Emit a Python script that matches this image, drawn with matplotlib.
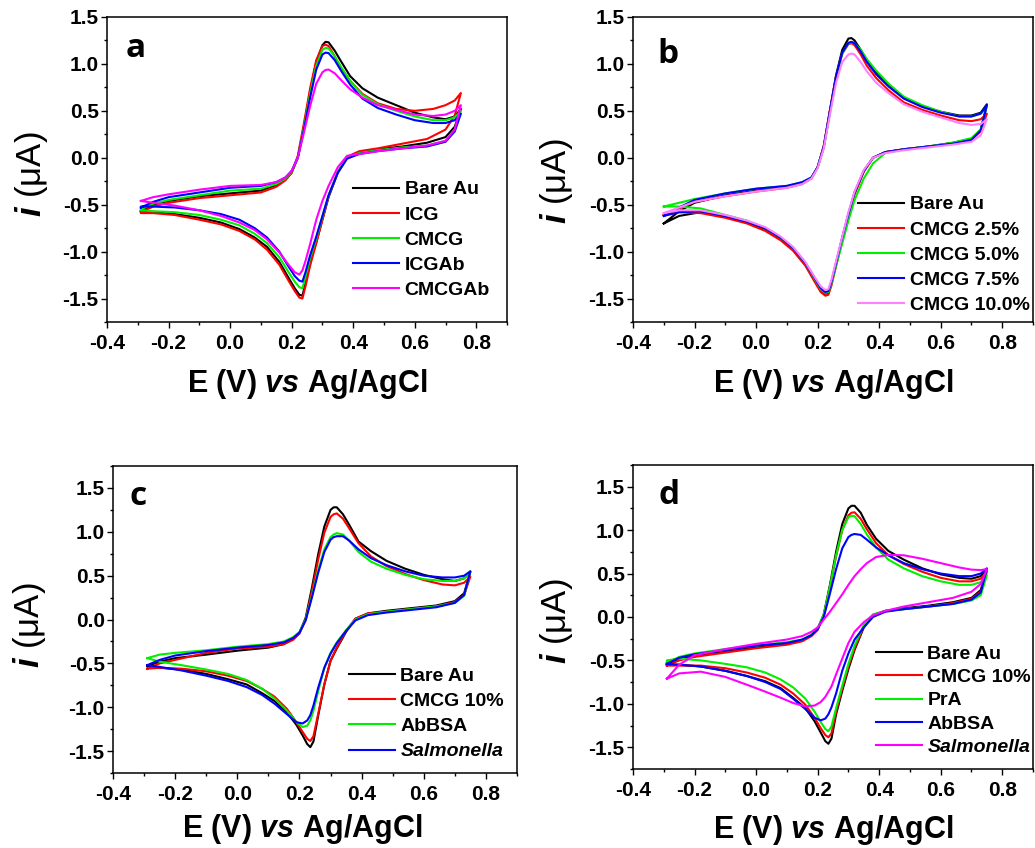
import matplotlib
matplotlib.use('Agg')
import matplotlib.pyplot as plt
from matplotlib.ticker import MultipleLocator, FormatStrFormatter

plt.rcParams['font.family'] = ['Liberation Sans', 'DejaVu Sans']
plt.rcParams['mathtext.fontset'] = 'custom'
plt.rcParams['mathtext.it'] = 'Liberation Sans:italic:bold'
plt.rcParams['mathtext.rm'] = 'Liberation Sans'

# potential grids (V vs Ag/AgCl): forward (anodic) and reverse (cathodic) scan
E_UP = [-0.29, -0.25, -0.2, -0.1, 0.0, 0.1, 0.15, 0.18, 0.2, 0.22, 0.24, 0.26, 0.28, 0.3,
        0.31, 0.32, 0.34, 0.36, 0.39, 0.43, 0.48, 0.54, 0.6, 0.66, 0.7, 0.73, 0.75]
E_DN = [0.75, 0.73, 0.7, 0.64, 0.56, 0.48, 0.42, 0.38, 0.35, 0.32, 0.3, 0.28, 0.26, 0.245,
        0.235, 0.225, 0.21, 0.19, 0.16, 0.12, 0.08, 0.03, -0.03, -0.1, -0.18, -0.25, -0.29]
E_UP_B = [-0.3, -0.25, -0.2, -0.1, 0.0, 0.1, 0.15, 0.18, 0.2, 0.22, 0.24, 0.26, 0.28, 0.3,
          0.31, 0.32, 0.34, 0.36, 0.39, 0.43, 0.48, 0.54, 0.6, 0.66, 0.7, 0.73, 0.75]
E_DN_B = [0.75, 0.73, 0.7, 0.64, 0.56, 0.48, 0.42, 0.38, 0.35, 0.32, 0.3, 0.28, 0.26, 0.245,
          0.235, 0.225, 0.21, 0.19, 0.16, 0.12, 0.08, 0.03, -0.03, -0.1, -0.18, -0.25, -0.3]

# ---- panel a
a_labels = ['Bare Au', 'ICG', 'CMCG', 'ICGAb', 'CMCGAb']
a_colors = ['#000000', '#ff0000', '#00ee00', '#0000ff', '#ff00ff']
a_up = [
    [-0.57, -0.50, -0.46, -0.41, -0.38, -0.35, -0.29, -0.23, -0.16, 0.00, 0.33, 0.70, 1.02, 1.20,
     1.235, 1.23, 1.14, 1.03, 0.87, 0.74, 0.64, 0.56, 0.48, 0.43, 0.41, 0.44, 0.52],
    [-0.58, -0.52, -0.48, -0.43, -0.40, -0.37, -0.31, -0.24, -0.16, 0.02, 0.37, 0.74, 1.04, 1.19,
     1.205, 1.19, 1.08, 0.96, 0.82, 0.68, 0.58, 0.52, 0.50, 0.52, 0.56, 0.61, 0.69],
    [-0.55, -0.49, -0.45, -0.40, -0.35, -0.33, -0.28, -0.22, -0.15, 0.00, 0.32, 0.68, 0.98, 1.15,
     1.17, 1.165, 1.08, 0.97, 0.82, 0.67, 0.57, 0.50, 0.44, 0.40, 0.40, 0.43, 0.50],
    [-0.53, -0.47, -0.42, -0.37, -0.32, -0.30, -0.26, -0.21, -0.14, 0.00, 0.30, 0.64, 0.94, 1.10,
     1.12, 1.115, 1.04, 0.93, 0.78, 0.63, 0.53, 0.46, 0.40, 0.37, 0.37, 0.40, 0.47],
    [-0.46, -0.42, -0.39, -0.34, -0.30, -0.29, -0.26, -0.21, -0.14, 0.00, 0.27, 0.55, 0.79, 0.91,
     0.935, 0.94, 0.90, 0.83, 0.73, 0.64, 0.56, 0.51, 0.46, 0.445, 0.46, 0.50, 0.56],
]
a_dn = [
    [0.52, 0.33, 0.22, 0.16, 0.12, 0.09, 0.06, 0.00, -0.16, -0.42, -0.66, -0.90, -1.12, -1.34,
     -1.47, -1.46, -1.39, -1.28, -1.11, -0.95, -0.85, -0.76, -0.69, -0.64, -0.60, -0.58, -0.58],
    [0.69, 0.45, 0.30, 0.20, 0.15, 0.10, 0.07, 0.01, -0.15, -0.41, -0.66, -0.91, -1.15, -1.37,
     -1.50, -1.49, -1.42, -1.31, -1.14, -0.98, -0.87, -0.78, -0.71, -0.66, -0.61, -0.59, -0.59],
    [0.50, 0.30, 0.18, 0.13, 0.11, 0.08, 0.05, 0.00, -0.15, -0.40, -0.63, -0.86, -1.07, -1.27,
     -1.39, -1.38, -1.32, -1.22, -1.06, -0.91, -0.81, -0.72, -0.66, -0.61, -0.58, -0.57, -0.56],
    [0.47, 0.28, 0.17, 0.12, 0.10, 0.07, 0.04, -0.01, -0.16, -0.40, -0.62, -0.84, -1.04, -1.22,
     -1.32, -1.31, -1.26, -1.16, -1.00, -0.85, -0.75, -0.66, -0.60, -0.56, -0.53, -0.52, -0.52],
    [0.56, 0.30, 0.18, 0.13, 0.10, 0.07, 0.04, 0.02, -0.10, -0.30, -0.46, -0.66, -0.92, -1.10,
     -1.20, -1.245, -1.22, -1.14, -1.01, -0.87, -0.77, -0.69, -0.62, -0.56, -0.51, -0.48, -0.46],
]

# ---- panel b
b_labels = ['Bare Au', 'CMCG 2.5%', 'CMCG 5.0%', 'CMCG 7.5%', 'CMCG 10.0%']
b_colors = ['#000000', '#ff0000', '#00ee00', '#0000ff', '#ff80ff']
b_up = [
    [-0.70, -0.57, -0.48, -0.40, -0.35, -0.31, -0.27, -0.21, -0.10, 0.12, 0.50, 0.88, 1.15, 1.27,
     1.275, 1.25, 1.15, 1.04, 0.91, 0.78, 0.64, 0.55, 0.49, 0.45, 0.45, 0.48, 0.57],
    [-0.61, -0.54, -0.47, -0.41, -0.36, -0.32, -0.28, -0.22, -0.10, 0.13, 0.51, 0.87, 1.11, 1.21,
     1.22, 1.20, 1.10, 0.98, 0.85, 0.72, 0.59, 0.51, 0.45, 0.40, 0.39, 0.41, 0.47],
    [-0.52, -0.48, -0.44, -0.38, -0.33, -0.30, -0.26, -0.21, -0.10, 0.11, 0.48, 0.85, 1.11, 1.22,
     1.23, 1.22, 1.15, 1.05, 0.93, 0.79, 0.65, 0.56, 0.49, 0.44, 0.44, 0.47, 0.55],
    [-0.62, -0.53, -0.45, -0.38, -0.33, -0.30, -0.26, -0.21, -0.10, 0.12, 0.50, 0.87, 1.12, 1.225,
     1.235, 1.22, 1.13, 1.02, 0.89, 0.76, 0.63, 0.54, 0.48, 0.44, 0.44, 0.47, 0.56],
    [-0.59, -0.53, -0.47, -0.41, -0.36, -0.32, -0.28, -0.22, -0.11, 0.10, 0.46, 0.80, 1.02, 1.10,
     1.11, 1.10, 1.02, 0.92, 0.80, 0.69, 0.57, 0.49, 0.43, 0.37, 0.35, 0.36, 0.41],
]
b_dn = [
    [0.57, 0.30, 0.20, 0.16, 0.12, 0.09, 0.06, 0.00, -0.14, -0.38, -0.60, -0.86, -1.13, -1.33,
     -1.44, -1.45, -1.41, -1.30, -1.13, -0.97, -0.86, -0.76, -0.69, -0.63, -0.58, -0.62, -0.70],
    [0.47, 0.28, 0.20, 0.15, 0.12, 0.09, 0.06, 0.00, -0.15, -0.39, -0.62, -0.88, -1.15, -1.36,
     -1.46, -1.47, -1.43, -1.32, -1.15, -0.99, -0.88, -0.78, -0.70, -0.64, -0.59, -0.58, -0.61],
    [0.55, 0.30, 0.21, 0.16, 0.12, 0.09, 0.05, -0.06, -0.22, -0.45, -0.67, -0.91, -1.15, -1.34,
     -1.43, -1.44, -1.40, -1.29, -1.12, -0.96, -0.85, -0.75, -0.67, -0.61, -0.54, -0.52, -0.52],
    [0.56, 0.29, 0.19, 0.15, 0.12, 0.09, 0.06, 0.00, -0.14, -0.37, -0.60, -0.85, -1.12, -1.32,
     -1.42, -1.43, -1.39, -1.28, -1.12, -0.96, -0.85, -0.75, -0.68, -0.62, -0.57, -0.58, -0.62],
    [0.41, 0.24, 0.17, 0.14, 0.11, 0.08, 0.05, 0.00, -0.13, -0.36, -0.58, -0.84, -1.10, -1.30,
     -1.40, -1.41, -1.37, -1.27, -1.11, -0.95, -0.84, -0.74, -0.67, -0.61, -0.56, -0.56, -0.59],
]

# ---- panel c
c_labels = ['Bare Au', 'CMCG 10%', 'AbBSA', 'Salmonella']
c_colors = ['#000000', '#ff0000', '#00ee00', '#0000ff']
c_up = [
    [-0.53, -0.48, -0.44, -0.40, -0.355, -0.32, -0.28, -0.22, -0.15, 0.02, 0.36, 0.74, 1.06, 1.25,
     1.28, 1.28, 1.20, 1.08, 0.89, 0.78, 0.67, 0.58, 0.51, 0.46, 0.44, 0.47, 0.545],
    [-0.56, -0.50, -0.46, -0.38, -0.33, -0.31, -0.28, -0.23, -0.16, 0.00, 0.32, 0.68, 0.99, 1.17,
     1.20, 1.21, 1.15, 1.04, 0.87, 0.72, 0.61, 0.52, 0.45, 0.40, 0.39, 0.42, 0.49],
    [-0.44, -0.40, -0.38, -0.35, -0.31, -0.28, -0.25, -0.20, -0.14, 0.00, 0.27, 0.56, 0.80, 0.94,
     0.97, 0.985, 0.97, 0.90, 0.77, 0.66, 0.58, 0.51, 0.46, 0.44, 0.44, 0.47, 0.55],
    [-0.52, -0.46, -0.41, -0.36, -0.32, -0.29, -0.26, -0.21, -0.15, -0.01, 0.25, 0.53, 0.77, 0.91,
     0.94, 0.95, 0.95, 0.90, 0.80, 0.70, 0.62, 0.55, 0.50, 0.48, 0.48, 0.50, 0.55],
]
c_dn = [
    [0.545, 0.30, 0.21, 0.16, 0.13, 0.10, 0.07, 0.01, -0.14, -0.33, -0.47, -0.74, -1.10, -1.39,
     -1.455, -1.42, -1.32, -1.20, -1.06, -0.93, -0.84, -0.74, -0.68, -0.62, -0.57, -0.55, -0.53],
    [0.49, 0.28, 0.20, 0.15, 0.12, 0.09, 0.07, 0.01, -0.13, -0.32, -0.47, -0.74, -1.08, -1.33,
     -1.385, -1.36, -1.28, -1.17, -1.02, -0.88, -0.79, -0.70, -0.64, -0.59, -0.56, -0.55, -0.56],
    [0.55, 0.27, 0.19, 0.15, 0.12, 0.09, 0.06, 0.00, -0.12, -0.26, -0.38, -0.55, -0.82, -1.04,
     -1.15, -1.21, -1.225, -1.17, -1.04, -0.90, -0.79, -0.69, -0.62, -0.57, -0.52, -0.48, -0.44],
    [0.55, 0.28, 0.19, 0.14, 0.11, 0.08, 0.05, -0.01, -0.13, -0.27, -0.39, -0.55, -0.78, -0.98,
     -1.09, -1.15, -1.185, -1.17, -1.08, -0.96, -0.86, -0.77, -0.70, -0.64, -0.58, -0.54, -0.52],
]

# ---- panel d
d_labels = ['Bare Au', 'CMCG 10%', 'PrA', 'AbBSA', 'Salmonella']
d_colors = ['#000000', '#ff0000', '#00ee00', '#0000ff', '#ff00ff']
d_up = [
    [-0.55, -0.49, -0.45, -0.40, -0.35, -0.31, -0.27, -0.21, -0.14, 0.03, 0.37, 0.75, 1.07, 1.25,
     1.28, 1.28, 1.20, 1.06, 0.90, 0.76, 0.66, 0.56, 0.49, 0.45, 0.44, 0.47, 0.55],
    [-0.56, -0.50, -0.46, -0.41, -0.36, -0.32, -0.28, -0.22, -0.15, 0.02, 0.34, 0.70, 1.00, 1.17,
     1.20, 1.205, 1.13, 1.01, 0.85, 0.71, 0.61, 0.52, 0.45, 0.41, 0.41, 0.44, 0.52],
    [-0.53, -0.46, -0.42, -0.37, -0.33, -0.29, -0.26, -0.20, -0.13, 0.03, 0.35, 0.71, 1.00, 1.15,
     1.165, 1.16, 1.07, 0.95, 0.80, 0.66, 0.56, 0.47, 0.41, 0.37, 0.37, 0.40, 0.48],
    [-0.54, -0.47, -0.43, -0.38, -0.33, -0.30, -0.26, -0.21, -0.14, 0.00, 0.27, 0.55, 0.79, 0.92,
     0.945, 0.955, 0.945, 0.89, 0.80, 0.71, 0.62, 0.55, 0.50, 0.47, 0.47, 0.50, 0.56],
    [-0.71, -0.55, -0.44, -0.37, -0.31, -0.26, -0.22, -0.17, -0.12, -0.03, 0.06, 0.16, 0.26, 0.37,
     0.42, 0.47, 0.55, 0.62, 0.69, 0.715, 0.71, 0.67, 0.62, 0.57, 0.545, 0.54, 0.55],
]
d_dn = [
    [0.55, 0.31, 0.22, 0.17, 0.13, 0.10, 0.07, 0.02, -0.12, -0.38, -0.60, -0.85, -1.12, -1.40,
     -1.46, -1.43, -1.33, -1.20, -1.05, -0.93, -0.82, -0.74, -0.68, -0.62, -0.57, -0.55, -0.55],
    [0.52, 0.29, 0.21, 0.16, 0.12, 0.09, 0.07, 0.02, -0.11, -0.36, -0.57, -0.82, -1.09, -1.34,
     -1.385, -1.36, -1.28, -1.16, -1.01, -0.88, -0.78, -0.70, -0.64, -0.59, -0.56, -0.56, -0.56],
    [0.48, 0.25, 0.19, 0.15, 0.12, 0.09, 0.07, 0.03, -0.09, -0.33, -0.54, -0.79, -1.05, -1.26,
     -1.315, -1.29, -1.21, -1.09, -0.94, -0.81, -0.72, -0.64, -0.58, -0.54, -0.50, -0.48, -0.50],
    [0.56, 0.28, 0.20, 0.15, 0.12, 0.09, 0.06, 0.00, -0.12, -0.26, -0.42, -0.62, -0.88, -1.04,
     -1.12, -1.17, -1.19, -1.16, -1.06, -0.94, -0.83, -0.75, -0.68, -0.62, -0.57, -0.55, -0.54],
    [0.55, 0.38, 0.29, 0.22, 0.17, 0.12, 0.07, 0.02, -0.06, -0.17, -0.30, -0.48, -0.66, -0.80,
     -0.86, -0.92, -0.98, -1.02, -1.03, -0.99, -0.93, -0.86, -0.78, -0.69, -0.63, -0.65, -0.71],
]


def draw_cv(ax, e_up, e_dn, ups, dns, labels, colors, letter, ylim, letter_xy, leg_xy, leg_sp,
            xlab_xy, ylab_xy):
    for up, dn, lab, col in zip(ups, dns, labels, colors):
        x = list(e_up) + list(e_dn) + [e_up[0]]
        y = list(up) + list(dn) + [up[0]]
        ax.plot(x, y, color=col, lw=1.5, label=lab, solid_joinstyle='round')

    ax.set_xlim(-0.4, 0.9)
    ax.set_ylim(*ylim)
    ax.xaxis.set_major_locator(MultipleLocator(0.2))
    ax.xaxis.set_minor_locator(MultipleLocator(0.1))
    ax.yaxis.set_major_locator(MultipleLocator(0.5))
    ax.yaxis.set_minor_locator(MultipleLocator(0.25))
    ax.xaxis.set_major_formatter(FormatStrFormatter('%.1f'))
    ax.yaxis.set_major_formatter(FormatStrFormatter('%.1f'))
    ax.tick_params(which='both', direction='out', top=False, right=False, width=1.0)
    ax.tick_params(which='major', length=4.5, labelsize=15)
    ax.tick_params(which='minor', length=2.5)
    ax.tick_params(axis='x', pad=4)
    ax.tick_params(axis='y', pad=1.5)
    for t in ax.get_xticklabels() + ax.get_yticklabels():
        t.set_fontweight('bold')
    for s in ax.spines.values():
        s.set_linewidth(1.1)

    ax.set_xlabel(r'E (V) $\mathit{vs}$ Ag/AgCl', fontsize=22, fontweight='bold')
    ax.xaxis.label.set_va('baseline')
    ax.xaxis.set_label_coords(*xlab_xy)
    ax.set_ylabel(r'$\mathit{i}$ (μA)', fontsize=25)
    ax.yaxis.label.set_va('baseline')
    ax.yaxis.set_label_coords(*ylab_xy)

    ax.text(letter_xy[0], letter_xy[1], letter, transform=ax.transAxes, fontsize=24,
            fontweight='bold', family='Open Sans', va='baseline')

    leg = ax.legend(loc='upper left', bbox_to_anchor=leg_xy, frameon=False,
                    prop={'weight': 'bold', 'size': 14}, handlelength=2.35,
                    handletextpad=0.3, labelspacing=leg_sp, borderpad=0, borderaxespad=0)
    for t in leg.get_texts():
        if t.get_text() == 'Salmonella':
            t.set_fontstyle('italic')


fig = plt.figure(figsize=(10.35, 8.48), dpi=100)
ax_a = fig.add_axes([0.1034, 0.6203, 0.3865, 0.3597])
ax_b = fig.add_axes([0.6116, 0.6203, 0.3865, 0.3597])
ax_c = fig.add_axes([0.1092, 0.0884, 0.3903, 0.3620])
ax_d = fig.add_axes([0.6116, 0.0932, 0.3865, 0.3585])

draw_cv(ax_a, E_UP, E_DN, a_up, a_dn, a_labels, a_colors, 'a', (-1.75, 1.5),
        (0.047, 0.869), (0.615, 0.463), 0.39, (0.5, -0.23), (-0.165, 0.485))
draw_cv(ax_b, E_UP_B, E_DN_B, b_up, b_dn, b_labels, b_colors, 'b', (-1.75, 1.5),
        (0.062, 0.849), (0.5625, 0.414), 0.39, (0.5, -0.23), (-0.168, 0.46))
draw_cv(ax_c, E_UP, E_DN, c_up, c_dn, c_labels, c_colors, 'c', (-1.75, 1.75),
        (0.042, 0.873), (0.584, 0.345), 0.39, (0.468, -0.208), (-0.183, 0.48))
draw_cv(ax_d, E_UP, E_DN, d_up, d_dn, d_labels, d_colors, 'd', (-1.75, 1.75),
        (0.0625, 0.872), (0.607, 0.407), 0.29, (0.5, -0.227), (-0.168, 0.487))

fig.savefig('out.png', dpi=100)
